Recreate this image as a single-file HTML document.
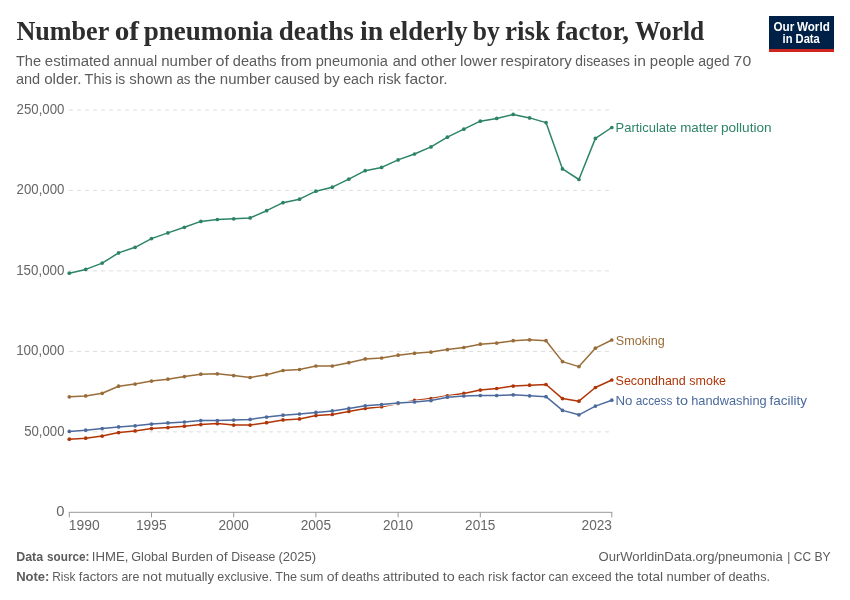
<!DOCTYPE html>
<html><head><meta charset="utf-8"><title>Number of pneumonia deaths in elderly by risk factor</title>
<style>
html,body{margin:0;padding:0;background:#fff;}
body{width:850px;height:600px;overflow:hidden;font-family:"Liberation Sans",sans-serif;}
svg{display:block;will-change:transform;font-family:"Liberation Sans",sans-serif;}
.serif{font-family:"Liberation Serif",serif;}
</style></head><body>
<svg width="850" height="600" viewBox="0 0 850 600">
<rect width="850" height="600" fill="#fff"/>
<rect x="769" y="16" width="65" height="36" fill="#002147"/>
<rect x="769" y="49" width="65" height="3" fill="#CE261E"/>
<line x1="69" y1="110.0" x2="611.8" y2="110.0" stroke="#ddd" stroke-width="1" stroke-dasharray="4,4"/>
<line x1="69" y1="190.45" x2="611.8" y2="190.45" stroke="#ddd" stroke-width="1" stroke-dasharray="4,4"/>
<line x1="69" y1="270.9" x2="611.8" y2="270.9" stroke="#ddd" stroke-width="1" stroke-dasharray="4,4"/>
<line x1="69" y1="351.4" x2="611.8" y2="351.4" stroke="#ddd" stroke-width="1" stroke-dasharray="4,4"/>
<line x1="69" y1="431.85" x2="611.8" y2="431.85" stroke="#ddd" stroke-width="1" stroke-dasharray="4,4"/>

<line x1="68.8" y1="512.3" x2="612.3" y2="512.3" stroke="#999" stroke-width="1"/>
<line x1="69.3" y1="512.3" x2="69.3" y2="517.3" stroke="#999" stroke-width="1"/>
<line x1="151.5" y1="512.3" x2="151.5" y2="517.3" stroke="#999" stroke-width="1"/>
<line x1="233.7" y1="512.3" x2="233.7" y2="517.3" stroke="#999" stroke-width="1"/>
<line x1="315.9" y1="512.3" x2="315.9" y2="517.3" stroke="#999" stroke-width="1"/>
<line x1="398.1" y1="512.3" x2="398.1" y2="517.3" stroke="#999" stroke-width="1"/>
<line x1="480.3" y1="512.3" x2="480.3" y2="517.3" stroke="#999" stroke-width="1"/>
<line x1="611.8" y1="512.3" x2="611.8" y2="517.3" stroke="#999" stroke-width="1"/>

<polyline points="69.3,273.2 85.7,269.4 102.2,263.1 118.6,252.9 135.1,247.3 151.5,238.6 167.9,232.9 184.4,227.3 200.8,221.4 217.3,219.5 233.7,218.8 250.1,217.9 266.6,210.7 283.0,202.7 299.5,199.2 315.9,191.2 332.3,187.2 348.8,179.2 365.2,170.7 381.6,167.4 398.1,159.9 414.5,154.0 431.0,146.9 447.4,137.2 463.8,129.2 480.3,121.2 496.7,118.4 513.2,114.4 529.6,117.9 546.0,122.6 562.5,168.9 578.9,179.5 595.4,138.4 611.8,127.5" fill="none" stroke="#fff" stroke-width="3.1" stroke-linejoin="round" stroke-linecap="round"/>
<polyline points="69.3,273.2 85.7,269.4 102.2,263.1 118.6,252.9 135.1,247.3 151.5,238.6 167.9,232.9 184.4,227.3 200.8,221.4 217.3,219.5 233.7,218.8 250.1,217.9 266.6,210.7 283.0,202.7 299.5,199.2 315.9,191.2 332.3,187.2 348.8,179.2 365.2,170.7 381.6,167.4 398.1,159.9 414.5,154.0 431.0,146.9 447.4,137.2 463.8,129.2 480.3,121.2 496.7,118.4 513.2,114.4 529.6,117.9 546.0,122.6 562.5,168.9 578.9,179.5 595.4,138.4 611.8,127.5" fill="none" stroke="#2C8465" stroke-width="1.5" stroke-linejoin="round" stroke-linecap="round"/>
<circle cx="69.3" cy="273.2" r="1.85" fill="#2C8465"/><circle cx="85.7" cy="269.4" r="1.85" fill="#2C8465"/><circle cx="102.2" cy="263.1" r="1.85" fill="#2C8465"/><circle cx="118.6" cy="252.9" r="1.85" fill="#2C8465"/><circle cx="135.1" cy="247.3" r="1.85" fill="#2C8465"/><circle cx="151.5" cy="238.6" r="1.85" fill="#2C8465"/><circle cx="167.9" cy="232.9" r="1.85" fill="#2C8465"/><circle cx="184.4" cy="227.3" r="1.85" fill="#2C8465"/><circle cx="200.8" cy="221.4" r="1.85" fill="#2C8465"/><circle cx="217.3" cy="219.5" r="1.85" fill="#2C8465"/><circle cx="233.7" cy="218.8" r="1.85" fill="#2C8465"/><circle cx="250.1" cy="217.9" r="1.85" fill="#2C8465"/><circle cx="266.6" cy="210.7" r="1.85" fill="#2C8465"/><circle cx="283.0" cy="202.7" r="1.85" fill="#2C8465"/><circle cx="299.5" cy="199.2" r="1.85" fill="#2C8465"/><circle cx="315.9" cy="191.2" r="1.85" fill="#2C8465"/><circle cx="332.3" cy="187.2" r="1.85" fill="#2C8465"/><circle cx="348.8" cy="179.2" r="1.85" fill="#2C8465"/><circle cx="365.2" cy="170.7" r="1.85" fill="#2C8465"/><circle cx="381.6" cy="167.4" r="1.85" fill="#2C8465"/><circle cx="398.1" cy="159.9" r="1.85" fill="#2C8465"/><circle cx="414.5" cy="154.0" r="1.85" fill="#2C8465"/><circle cx="431.0" cy="146.9" r="1.85" fill="#2C8465"/><circle cx="447.4" cy="137.2" r="1.85" fill="#2C8465"/><circle cx="463.8" cy="129.2" r="1.85" fill="#2C8465"/><circle cx="480.3" cy="121.2" r="1.85" fill="#2C8465"/><circle cx="496.7" cy="118.4" r="1.85" fill="#2C8465"/><circle cx="513.2" cy="114.4" r="1.85" fill="#2C8465"/><circle cx="529.6" cy="117.9" r="1.85" fill="#2C8465"/><circle cx="546.0" cy="122.6" r="1.85" fill="#2C8465"/><circle cx="562.5" cy="168.9" r="1.85" fill="#2C8465"/><circle cx="578.9" cy="179.5" r="1.85" fill="#2C8465"/><circle cx="595.4" cy="138.4" r="1.85" fill="#2C8465"/><circle cx="611.8" cy="127.5" r="1.85" fill="#2C8465"/>

<polyline points="69.3,396.8 85.7,395.9 102.2,393.3 118.6,386.2 135.1,384.1 151.5,381.1 167.9,379.2 184.4,376.6 200.8,374.2 217.3,373.8 233.7,375.6 250.1,377.5 266.6,374.7 283.0,370.5 299.5,369.5 315.9,366.0 332.3,366.0 348.8,362.7 365.2,358.9 381.6,358.0 398.1,355.2 414.5,353.3 431.0,352.1 447.4,349.6 463.8,347.5 480.3,344.2 496.7,343.1 513.2,340.7 529.6,339.8 546.0,340.7 562.5,361.6 578.9,366.6 595.4,348.2 611.8,340.0" fill="none" stroke="#fff" stroke-width="3.1" stroke-linejoin="round" stroke-linecap="round"/>
<polyline points="69.3,396.8 85.7,395.9 102.2,393.3 118.6,386.2 135.1,384.1 151.5,381.1 167.9,379.2 184.4,376.6 200.8,374.2 217.3,373.8 233.7,375.6 250.1,377.5 266.6,374.7 283.0,370.5 299.5,369.5 315.9,366.0 332.3,366.0 348.8,362.7 365.2,358.9 381.6,358.0 398.1,355.2 414.5,353.3 431.0,352.1 447.4,349.6 463.8,347.5 480.3,344.2 496.7,343.1 513.2,340.7 529.6,339.8 546.0,340.7 562.5,361.6 578.9,366.6 595.4,348.2 611.8,340.0" fill="none" stroke="#996D39" stroke-width="1.5" stroke-linejoin="round" stroke-linecap="round"/>
<circle cx="69.3" cy="396.8" r="1.85" fill="#996D39"/><circle cx="85.7" cy="395.9" r="1.85" fill="#996D39"/><circle cx="102.2" cy="393.3" r="1.85" fill="#996D39"/><circle cx="118.6" cy="386.2" r="1.85" fill="#996D39"/><circle cx="135.1" cy="384.1" r="1.85" fill="#996D39"/><circle cx="151.5" cy="381.1" r="1.85" fill="#996D39"/><circle cx="167.9" cy="379.2" r="1.85" fill="#996D39"/><circle cx="184.4" cy="376.6" r="1.85" fill="#996D39"/><circle cx="200.8" cy="374.2" r="1.85" fill="#996D39"/><circle cx="217.3" cy="373.8" r="1.85" fill="#996D39"/><circle cx="233.7" cy="375.6" r="1.85" fill="#996D39"/><circle cx="250.1" cy="377.5" r="1.85" fill="#996D39"/><circle cx="266.6" cy="374.7" r="1.85" fill="#996D39"/><circle cx="283.0" cy="370.5" r="1.85" fill="#996D39"/><circle cx="299.5" cy="369.5" r="1.85" fill="#996D39"/><circle cx="315.9" cy="366.0" r="1.85" fill="#996D39"/><circle cx="332.3" cy="366.0" r="1.85" fill="#996D39"/><circle cx="348.8" cy="362.7" r="1.85" fill="#996D39"/><circle cx="365.2" cy="358.9" r="1.85" fill="#996D39"/><circle cx="381.6" cy="358.0" r="1.85" fill="#996D39"/><circle cx="398.1" cy="355.2" r="1.85" fill="#996D39"/><circle cx="414.5" cy="353.3" r="1.85" fill="#996D39"/><circle cx="431.0" cy="352.1" r="1.85" fill="#996D39"/><circle cx="447.4" cy="349.6" r="1.85" fill="#996D39"/><circle cx="463.8" cy="347.5" r="1.85" fill="#996D39"/><circle cx="480.3" cy="344.2" r="1.85" fill="#996D39"/><circle cx="496.7" cy="343.1" r="1.85" fill="#996D39"/><circle cx="513.2" cy="340.7" r="1.85" fill="#996D39"/><circle cx="529.6" cy="339.8" r="1.85" fill="#996D39"/><circle cx="546.0" cy="340.7" r="1.85" fill="#996D39"/><circle cx="562.5" cy="361.6" r="1.85" fill="#996D39"/><circle cx="578.9" cy="366.6" r="1.85" fill="#996D39"/><circle cx="595.4" cy="348.2" r="1.85" fill="#996D39"/><circle cx="611.8" cy="340.0" r="1.85" fill="#996D39"/>

<polyline points="69.3,439.2 85.7,438.2 102.2,436.1 118.6,432.6 135.1,430.9 151.5,428.6 167.9,427.6 184.4,426.2 200.8,424.6 217.3,423.6 233.7,425.1 250.1,425.1 266.6,422.7 283.0,419.9 299.5,418.9 315.9,415.6 332.3,414.5 348.8,411.4 365.2,408.4 381.6,406.7 398.1,403.4 414.5,400.4 431.0,398.5 447.4,395.8 463.8,393.4 480.3,390.1 496.7,388.5 513.2,386.1 529.6,385.2 546.0,384.5 562.5,398.6 578.9,401.2 595.4,387.5 611.8,380.0" fill="none" stroke="#fff" stroke-width="3.1" stroke-linejoin="round" stroke-linecap="round"/>
<polyline points="69.3,439.2 85.7,438.2 102.2,436.1 118.6,432.6 135.1,430.9 151.5,428.6 167.9,427.6 184.4,426.2 200.8,424.6 217.3,423.6 233.7,425.1 250.1,425.1 266.6,422.7 283.0,419.9 299.5,418.9 315.9,415.6 332.3,414.5 348.8,411.4 365.2,408.4 381.6,406.7 398.1,403.4 414.5,400.4 431.0,398.5 447.4,395.8 463.8,393.4 480.3,390.1 496.7,388.5 513.2,386.1 529.6,385.2 546.0,384.5 562.5,398.6 578.9,401.2 595.4,387.5 611.8,380.0" fill="none" stroke="#B13507" stroke-width="1.5" stroke-linejoin="round" stroke-linecap="round"/>
<circle cx="69.3" cy="439.2" r="1.85" fill="#B13507"/><circle cx="85.7" cy="438.2" r="1.85" fill="#B13507"/><circle cx="102.2" cy="436.1" r="1.85" fill="#B13507"/><circle cx="118.6" cy="432.6" r="1.85" fill="#B13507"/><circle cx="135.1" cy="430.9" r="1.85" fill="#B13507"/><circle cx="151.5" cy="428.6" r="1.85" fill="#B13507"/><circle cx="167.9" cy="427.6" r="1.85" fill="#B13507"/><circle cx="184.4" cy="426.2" r="1.85" fill="#B13507"/><circle cx="200.8" cy="424.6" r="1.85" fill="#B13507"/><circle cx="217.3" cy="423.6" r="1.85" fill="#B13507"/><circle cx="233.7" cy="425.1" r="1.85" fill="#B13507"/><circle cx="250.1" cy="425.1" r="1.85" fill="#B13507"/><circle cx="266.6" cy="422.7" r="1.85" fill="#B13507"/><circle cx="283.0" cy="419.9" r="1.85" fill="#B13507"/><circle cx="299.5" cy="418.9" r="1.85" fill="#B13507"/><circle cx="315.9" cy="415.6" r="1.85" fill="#B13507"/><circle cx="332.3" cy="414.5" r="1.85" fill="#B13507"/><circle cx="348.8" cy="411.4" r="1.85" fill="#B13507"/><circle cx="365.2" cy="408.4" r="1.85" fill="#B13507"/><circle cx="381.6" cy="406.7" r="1.85" fill="#B13507"/><circle cx="398.1" cy="403.4" r="1.85" fill="#B13507"/><circle cx="414.5" cy="400.4" r="1.85" fill="#B13507"/><circle cx="431.0" cy="398.5" r="1.85" fill="#B13507"/><circle cx="447.4" cy="395.8" r="1.85" fill="#B13507"/><circle cx="463.8" cy="393.4" r="1.85" fill="#B13507"/><circle cx="480.3" cy="390.1" r="1.85" fill="#B13507"/><circle cx="496.7" cy="388.5" r="1.85" fill="#B13507"/><circle cx="513.2" cy="386.1" r="1.85" fill="#B13507"/><circle cx="529.6" cy="385.2" r="1.85" fill="#B13507"/><circle cx="546.0" cy="384.5" r="1.85" fill="#B13507"/><circle cx="562.5" cy="398.6" r="1.85" fill="#B13507"/><circle cx="578.9" cy="401.2" r="1.85" fill="#B13507"/><circle cx="595.4" cy="387.5" r="1.85" fill="#B13507"/><circle cx="611.8" cy="380.0" r="1.85" fill="#B13507"/>

<polyline points="69.3,431.4 85.7,430.2 102.2,428.6 118.6,426.9 135.1,425.8 151.5,424.1 167.9,422.9 184.4,422.0 200.8,420.6 217.3,420.6 233.7,420.1 250.1,419.4 266.6,417.1 283.0,415.2 299.5,414.0 315.9,412.4 332.3,410.9 348.8,408.4 365.2,405.8 381.6,404.6 398.1,402.9 414.5,402.0 431.0,400.6 447.4,397.2 463.8,396.0 480.3,395.5 496.7,395.5 513.2,394.8 529.6,395.8 546.0,396.7 562.5,410.4 578.9,414.8 595.4,406.1 611.8,400.2" fill="none" stroke="#fff" stroke-width="3.1" stroke-linejoin="round" stroke-linecap="round"/>
<polyline points="69.3,431.4 85.7,430.2 102.2,428.6 118.6,426.9 135.1,425.8 151.5,424.1 167.9,422.9 184.4,422.0 200.8,420.6 217.3,420.6 233.7,420.1 250.1,419.4 266.6,417.1 283.0,415.2 299.5,414.0 315.9,412.4 332.3,410.9 348.8,408.4 365.2,405.8 381.6,404.6 398.1,402.9 414.5,402.0 431.0,400.6 447.4,397.2 463.8,396.0 480.3,395.5 496.7,395.5 513.2,394.8 529.6,395.8 546.0,396.7 562.5,410.4 578.9,414.8 595.4,406.1 611.8,400.2" fill="none" stroke="#4C6A9C" stroke-width="1.5" stroke-linejoin="round" stroke-linecap="round"/>
<circle cx="69.3" cy="431.4" r="1.85" fill="#4C6A9C"/><circle cx="85.7" cy="430.2" r="1.85" fill="#4C6A9C"/><circle cx="102.2" cy="428.6" r="1.85" fill="#4C6A9C"/><circle cx="118.6" cy="426.9" r="1.85" fill="#4C6A9C"/><circle cx="135.1" cy="425.8" r="1.85" fill="#4C6A9C"/><circle cx="151.5" cy="424.1" r="1.85" fill="#4C6A9C"/><circle cx="167.9" cy="422.9" r="1.85" fill="#4C6A9C"/><circle cx="184.4" cy="422.0" r="1.85" fill="#4C6A9C"/><circle cx="200.8" cy="420.6" r="1.85" fill="#4C6A9C"/><circle cx="217.3" cy="420.6" r="1.85" fill="#4C6A9C"/><circle cx="233.7" cy="420.1" r="1.85" fill="#4C6A9C"/><circle cx="250.1" cy="419.4" r="1.85" fill="#4C6A9C"/><circle cx="266.6" cy="417.1" r="1.85" fill="#4C6A9C"/><circle cx="283.0" cy="415.2" r="1.85" fill="#4C6A9C"/><circle cx="299.5" cy="414.0" r="1.85" fill="#4C6A9C"/><circle cx="315.9" cy="412.4" r="1.85" fill="#4C6A9C"/><circle cx="332.3" cy="410.9" r="1.85" fill="#4C6A9C"/><circle cx="348.8" cy="408.4" r="1.85" fill="#4C6A9C"/><circle cx="365.2" cy="405.8" r="1.85" fill="#4C6A9C"/><circle cx="381.6" cy="404.6" r="1.85" fill="#4C6A9C"/><circle cx="398.1" cy="402.9" r="1.85" fill="#4C6A9C"/><circle cx="414.5" cy="402.0" r="1.85" fill="#4C6A9C"/><circle cx="431.0" cy="400.6" r="1.85" fill="#4C6A9C"/><circle cx="447.4" cy="397.2" r="1.85" fill="#4C6A9C"/><circle cx="463.8" cy="396.0" r="1.85" fill="#4C6A9C"/><circle cx="480.3" cy="395.5" r="1.85" fill="#4C6A9C"/><circle cx="496.7" cy="395.5" r="1.85" fill="#4C6A9C"/><circle cx="513.2" cy="394.8" r="1.85" fill="#4C6A9C"/><circle cx="529.6" cy="395.8" r="1.85" fill="#4C6A9C"/><circle cx="546.0" cy="396.7" r="1.85" fill="#4C6A9C"/><circle cx="562.5" cy="410.4" r="1.85" fill="#4C6A9C"/><circle cx="578.9" cy="414.8" r="1.85" fill="#4C6A9C"/><circle cx="595.4" cy="406.1" r="1.85" fill="#4C6A9C"/><circle cx="611.8" cy="400.2" r="1.85" fill="#4C6A9C"/>

<text class="serif" transform="translate(16.39,40.0) scale(0.9684,1)" font-size="27" font-weight="700" fill="#2d2d2d">Number</text>
<text class="serif" transform="translate(114.64,40.0) scale(1.0815,1)" font-size="27" font-weight="700" fill="#2d2d2d">of</text>
<text class="serif" transform="translate(143.72,40.0) scale(1.0023,1)" font-size="27" font-weight="700" fill="#2d2d2d">pneumonia</text>
<text class="serif" transform="translate(278.68,40.0) scale(0.9997,1)" font-size="27" font-weight="700" fill="#2d2d2d">deaths</text>
<text class="serif" transform="translate(360.09,40.0) scale(1.0313,1)" font-size="27" font-weight="700" fill="#2d2d2d">in</text>
<text class="serif" transform="translate(388.94,40.0) scale(0.9893,1)" font-size="27" font-weight="700" fill="#2d2d2d">elderly</text>
<text class="serif" transform="translate(472.80,40.0) scale(0.9478,1)" font-size="27" font-weight="700" fill="#2d2d2d">by</text>
<text class="serif" transform="translate(505.04,40.0) scale(0.9972,1)" font-size="27" font-weight="700" fill="#2d2d2d">risk</text>
<text class="serif" transform="translate(556.17,40.0) scale(0.9947,1)" font-size="27" font-weight="700" fill="#2d2d2d">factor,</text>
<text class="serif" transform="translate(634.98,40.0) scale(0.9407,1)" font-size="27" font-weight="700" fill="#2d2d2d">World</text>
<text transform="translate(15.90,66.4) scale(0.9493,1)" font-size="15.4" fill="#5b5b5b">The</text>
<text transform="translate(44.84,66.4) scale(0.9732,1)" font-size="15.4" fill="#5b5b5b">estimated</text>
<text transform="translate(113.62,66.4) scale(0.9417,1)" font-size="15.4" fill="#5b5b5b">annual</text>
<text transform="translate(161.20,66.4) scale(0.9770,1)" font-size="15.4" fill="#5b5b5b">number</text>
<text transform="translate(215.55,66.4) scale(1.0485,1)" font-size="15.4" fill="#5b5b5b">of</text>
<text transform="translate(232.78,66.4) scale(0.9481,1)" font-size="15.4" fill="#5b5b5b">deaths</text>
<text transform="translate(280.65,66.4) scale(1.0133,1)" font-size="15.4" fill="#5b5b5b">from</text>
<text transform="translate(315.75,66.4) scale(0.9480,1)" font-size="15.4" fill="#5b5b5b">pneumonia</text>
<text transform="translate(392.69,66.4) scale(0.9438,1)" font-size="15.4" fill="#5b5b5b">and</text>
<text transform="translate(420.91,66.4) scale(1.0170,1)" font-size="15.4" fill="#5b5b5b">other</text>
<text transform="translate(460.01,66.4) scale(1.0088,1)" font-size="15.4" fill="#5b5b5b">lower</text>
<text transform="translate(500.51,66.4) scale(0.9792,1)" font-size="15.4" fill="#5b5b5b">respiratory</text>
<text transform="translate(575.37,66.4) scale(0.8991,1)" font-size="15.4" fill="#5b5b5b">diseases</text>
<text transform="translate(633.75,66.4) scale(1.0183,1)" font-size="15.4" fill="#5b5b5b">in</text>
<text transform="translate(649.86,66.4) scale(0.9663,1)" font-size="15.4" fill="#5b5b5b">people</text>
<text transform="translate(698.20,66.4) scale(0.9178,1)" font-size="15.4" fill="#5b5b5b">aged</text>
<text transform="translate(733.62,66.4) scale(1.0248,1)" font-size="15.4" fill="#5b5b5b">70</text>
<text transform="translate(15.91,83.8) scale(0.9432,1)" font-size="15.4" fill="#5b5b5b">and</text>
<text transform="translate(44.13,83.8) scale(0.9918,1)" font-size="15.4" fill="#5b5b5b">older.</text>
<text transform="translate(84.62,83.8) scale(0.9355,1)" font-size="15.4" fill="#5b5b5b">This</text>
<text transform="translate(115.21,83.8) scale(0.9079,1)" font-size="15.4" fill="#5b5b5b">is</text>
<text transform="translate(129.37,83.8) scale(0.9715,1)" font-size="15.4" fill="#5b5b5b">shown</text>
<text transform="translate(176.38,83.8) scale(0.8563,1)" font-size="15.4" fill="#5b5b5b">as</text>
<text transform="translate(194.39,83.8) scale(1.0104,1)" font-size="15.4" fill="#5b5b5b">the</text>
<text transform="translate(219.79,83.8) scale(0.9764,1)" font-size="15.4" fill="#5b5b5b">number</text>
<text transform="translate(274.18,83.8) scale(0.9177,1)" font-size="15.4" fill="#5b5b5b">caused</text>
<text transform="translate(323.85,83.8) scale(0.9682,1)" font-size="15.4" fill="#5b5b5b">by</text>
<text transform="translate(343.15,83.8) scale(0.9239,1)" font-size="15.4" fill="#5b5b5b">each</text>
<text transform="translate(377.94,83.8) scale(0.9615,1)" font-size="15.4" fill="#5b5b5b">risk</text>
<text transform="translate(405.04,83.8) scale(1.0154,1)" font-size="15.4" fill="#5b5b5b">factor.</text>
<text transform="translate(16.18,560.8) scale(0.9426,1)" font-size="13.2" font-weight="700" fill="#5b5b5b">Data</text>
<text transform="translate(47.01,560.8) scale(0.8906,1)" font-size="13.2" font-weight="700" fill="#5b5b5b">source:</text>
<text transform="translate(91.81,560.8) scale(0.9998,1)" font-size="13.2" fill="#5b5b5b">IHME,</text>
<text transform="translate(131.24,560.8) scale(0.9607,1)" font-size="13.2" fill="#5b5b5b">Global</text>
<text transform="translate(171.49,560.8) scale(0.9698,1)" font-size="13.2" fill="#5b5b5b">Burden</text>
<text transform="translate(216.07,560.8) scale(1.0617,1)" font-size="13.2" fill="#5b5b5b">of</text>
<text transform="translate(231.19,560.8) scale(0.9262,1)" font-size="13.2" fill="#5b5b5b">Disease</text>
<text transform="translate(278.45,560.8) scale(0.9856,1)" font-size="13.2" fill="#5b5b5b">(2025)</text>
<text transform="translate(598.48,560.8) scale(0.9912,1)" font-size="13.2" fill="#5b5b5b">OurWorldinData.org/pneumonia</text>
<text transform="translate(787.28,560.8) scale(0.8872,1)" font-size="13.2" fill="#5b5b5b">|</text>
<text transform="translate(793.72,560.8) scale(0.9097,1)" font-size="13.2" fill="#5b5b5b">CC</text>
<text transform="translate(814.41,560.8) scale(0.9210,1)" font-size="13.2" fill="#5b5b5b">BY</text>
<text transform="translate(16.13,580.9) scale(0.9891,1)" font-size="13.2" font-weight="700" fill="#5b5b5b">Note:</text>
<text transform="translate(52.24,580.9) scale(0.9001,1)" font-size="13.2" fill="#5b5b5b">Risk</text>
<text transform="translate(78.86,580.9) scale(0.9928,1)" font-size="13.2" fill="#5b5b5b">factors</text>
<text transform="translate(121.45,580.9) scale(0.9373,1)" font-size="13.2" fill="#5b5b5b">are</text>
<text transform="translate(142.61,580.9) scale(1.0432,1)" font-size="13.2" fill="#5b5b5b">not</text>
<text transform="translate(165.14,580.9) scale(0.9973,1)" font-size="13.2" fill="#5b5b5b">mutually</text>
<text transform="translate(217.29,580.9) scale(0.9499,1)" font-size="13.2" fill="#5b5b5b">exclusive.</text>
<text transform="translate(275.20,580.9) scale(0.9558,1)" font-size="13.2" fill="#5b5b5b">The</text>
<text transform="translate(299.94,580.9) scale(0.9415,1)" font-size="13.2" fill="#5b5b5b">sum</text>
<text transform="translate(326.71,580.9) scale(1.0599,1)" font-size="13.2" fill="#5b5b5b">of</text>
<text transform="translate(341.62,580.9) scale(0.9582,1)" font-size="13.2" fill="#5b5b5b">deaths</text>
<text transform="translate(382.83,580.9) scale(1.0261,1)" font-size="13.2" fill="#5b5b5b">attributed</text>
<text transform="translate(442.72,580.9) scale(1.0927,1)" font-size="13.2" fill="#5b5b5b">to</text>
<text transform="translate(458.03,580.9) scale(0.9331,1)" font-size="13.2" fill="#5b5b5b">each</text>
<text transform="translate(488.11,580.9) scale(0.9736,1)" font-size="13.2" fill="#5b5b5b">risk</text>
<text transform="translate(511.61,580.9) scale(1.0283,1)" font-size="13.2" fill="#5b5b5b">factor</text>
<text transform="translate(548.48,580.9) scale(0.9326,1)" font-size="13.2" fill="#5b5b5b">can</text>
<text transform="translate(571.71,580.9) scale(0.9372,1)" font-size="13.2" fill="#5b5b5b">exceed</text>
<text transform="translate(615.10,580.9) scale(1.0225,1)" font-size="13.2" fill="#5b5b5b">the</text>
<text transform="translate(637.19,580.9) scale(1.0408,1)" font-size="13.2" fill="#5b5b5b">total</text>
<text transform="translate(666.53,580.9) scale(0.9875,1)" font-size="13.2" fill="#5b5b5b">number</text>
<text transform="translate(713.59,580.9) scale(1.0599,1)" font-size="13.2" fill="#5b5b5b">of</text>
<text transform="translate(728.50,580.9) scale(0.9589,1)" font-size="13.2" fill="#5b5b5b">deaths.</text>
<text transform="translate(615.56,132.3) scale(0.9828,1)" font-size="13.2" fill="#2C8465">Particulate</text>
<text transform="translate(680.15,132.3) scale(1.0110,1)" font-size="13.2" fill="#2C8465">matter</text>
<text transform="translate(720.90,132.3) scale(1.0345,1)" font-size="13.2" fill="#2C8465">pollution</text>
<text transform="translate(615.76,344.8) scale(0.9570,1)" font-size="13.2" fill="#996D39">Smoking</text>
<text transform="translate(615.57,384.6) scale(0.9477,1)" font-size="13.2" fill="#B13507">Secondhand</text>
<text transform="translate(689.34,384.6) scale(0.9456,1)" font-size="13.2" fill="#B13507">smoke</text>
<text transform="translate(615.43,405.0) scale(1.0089,1)" font-size="13.2" fill="#4C6A9C">No</text>
<text transform="translate(635.67,405.0) scale(0.8951,1)" font-size="13.2" fill="#4C6A9C">access</text>
<text transform="translate(675.90,405.0) scale(1.0938,1)" font-size="13.2" fill="#4C6A9C">to</text>
<text transform="translate(691.21,405.0) scale(0.9695,1)" font-size="13.2" fill="#4C6A9C">handwashing</text>
<text transform="translate(769.53,405.0) scale(1.0266,1)" font-size="13.2" fill="#4C6A9C">facility</text>
<text transform="translate(773.47,30.7) scale(0.9788,1)" font-size="12" font-weight="700" fill="#fff">Our</text>
<text transform="translate(796.94,30.7) scale(0.9737,1)" font-size="12" font-weight="700" fill="#fff">World</text>
<text transform="translate(782.54,42.7) scale(0.9299,1)" font-size="12" font-weight="700" fill="#fff">in</text>
<text transform="translate(795.55,42.7) scale(0.9336,1)" font-size="12" font-weight="700" fill="#fff">Data</text>
<text transform="translate(68.85,530.3) scale(0.9917,1)" font-size="14" fill="#666">1990</text>
<text transform="translate(135.95,530.3) scale(0.9849,1)" font-size="14" fill="#666">1995</text>
<text transform="translate(218.53,530.3) scale(0.9726,1)" font-size="14" fill="#666">2000</text>
<text transform="translate(300.72,530.3) scale(0.9726,1)" font-size="14" fill="#666">2005</text>
<text transform="translate(382.92,530.3) scale(0.9726,1)" font-size="14" fill="#666">2010</text>
<text transform="translate(465.12,530.3) scale(0.9726,1)" font-size="14" fill="#666">2015</text>
<text transform="translate(581.53,530.3) scale(0.9779,1)" font-size="14" fill="#666">2023</text>
<text transform="translate(16.55,113.85) scale(0.9477,1)" font-size="14" fill="#666">250,000</text>
<text transform="translate(16.55,194.29999999999998) scale(0.9477,1)" font-size="14" fill="#666">200,000</text>
<text transform="translate(16.19,274.75) scale(0.9549,1)" font-size="14" fill="#666">150,000</text>
<text transform="translate(16.19,355.25) scale(0.9549,1)" font-size="14" fill="#666">100,000</text>
<text transform="translate(24.13,435.70000000000005) scale(0.9429,1)" font-size="14" fill="#666">50,000</text>
<text transform="translate(56.37,516.15) scale(1.0519,1)" font-size="14" fill="#666">0</text>
</svg>
</body></html>
